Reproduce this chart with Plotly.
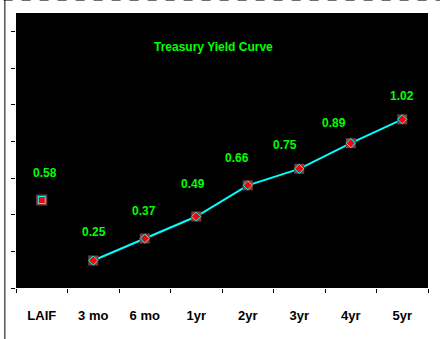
import plotly.graph_objects as go

categories = ["LAIF", "3 mo", "6 mo", "1yr", "2yr", "3yr", "4yr", "5yr"]
laif_value = [0.58]
treasury_cats = ["3 mo", "6 mo", "1yr", "2yr", "3yr", "4yr", "5yr"]
treasury_values = [0.25, 0.37, 0.49, 0.66, 0.75, 0.89, 1.02]
y_ticks = [0.1, 0.3, 0.5, 0.7, 0.9, 1.1, 1.3, 1.5]

# label offsets in pixels (style only)
label_dx = [3, 1, -1, -3, -11, -14, -17, 0]
label_dy = [27, 29, 28, 33, 27, 24, 20, 23]

FONT = "Liberation Sans, Arial, sans-serif"
GREEN = "#00FF00"

fig = go.Figure()

fig.add_trace(go.Scatter(
    x=treasury_cats, y=treasury_values, mode="lines",
    line=dict(color="#00FFFF", width=2), hoverinfo="skip", showlegend=False))
fig.add_trace(go.Scatter(
    x=treasury_cats, y=treasury_values, mode="markers",
    marker=dict(symbol="square", size=10, color="#7A3E3E", line=dict(width=0)),
    showlegend=False))
fig.add_trace(go.Scatter(
    x=treasury_cats, y=treasury_values, mode="markers",
    marker=dict(symbol="diamond", size=7, color="#FF0000", line=dict(color="#00FFFF", width=1)),
    showlegend=False))
fig.add_trace(go.Scatter(
    x=["LAIF"], y=laif_value, mode="markers",
    marker=dict(symbol="square", size=11, color="#7A3E3E", line=dict(width=0)),
    showlegend=False))
fig.add_trace(go.Scatter(
    x=["LAIF"], y=laif_value, mode="markers",
    marker=dict(symbol="square", size=7, color="#FF0000", line=dict(color="#00FFFF", width=1)),
    showlegend=False))

for c, v, dx, dy in zip(["LAIF"] + treasury_cats, laif_value + treasury_values, label_dx, label_dy):
    fig.add_annotation(x=c, y=v, text=f"{v:.2f}", showarrow=False, xshift=dx, yshift=dy,
                       xanchor="center", yanchor="middle",
                       font=dict(family=FONT, size=12, color=GREEN, weight="bold"))

fig.add_annotation(xref="paper", yref="paper", x=0.479, y=0.876, text="Treasury Yield Curve",
                   xanchor="center", yanchor="middle",
                   showarrow=False, font=dict(family=FONT, size=12, color=GREEN, weight="bold"))

fig.add_shape(type="line", xref="paper", yref="paper", x0=-0.03, x1=1.05, y0=1.047, y1=1.047,
              line=dict(color="black", width=1, dash="dash"))
fig.add_shape(type="line", xref="paper", yref="paper", x0=-0.027, x1=-0.027, y0=-0.2, y1=1.047,
              line=dict(color="black", width=1))

fig.update_layout(
    width=440, height=339,
    margin=dict(l=12, r=12, t=13, b=51),
    paper_bgcolor="white", plot_bgcolor="black",
    showlegend=False,
    xaxis=dict(type="category", categoryorder="array", categoryarray=categories,
               range=[-0.5, 7.5], showgrid=False, zeroline=False, showline=False,
               ticks="outside", tickson="boundaries", ticklen=4, tickcolor="black", tickwidth=1,
               tickfont=dict(family=FONT, size=13, color="black", weight="bold"),
               ticklabelstandoff=18),
    yaxis=dict(range=[0.1, 1.6], showgrid=False, zeroline=False, showline=False,
               tickvals=y_ticks, showticklabels=False,
               ticks="outside", ticklen=4, tickcolor="black", tickwidth=1),
)

fig.write_html("out.html")
